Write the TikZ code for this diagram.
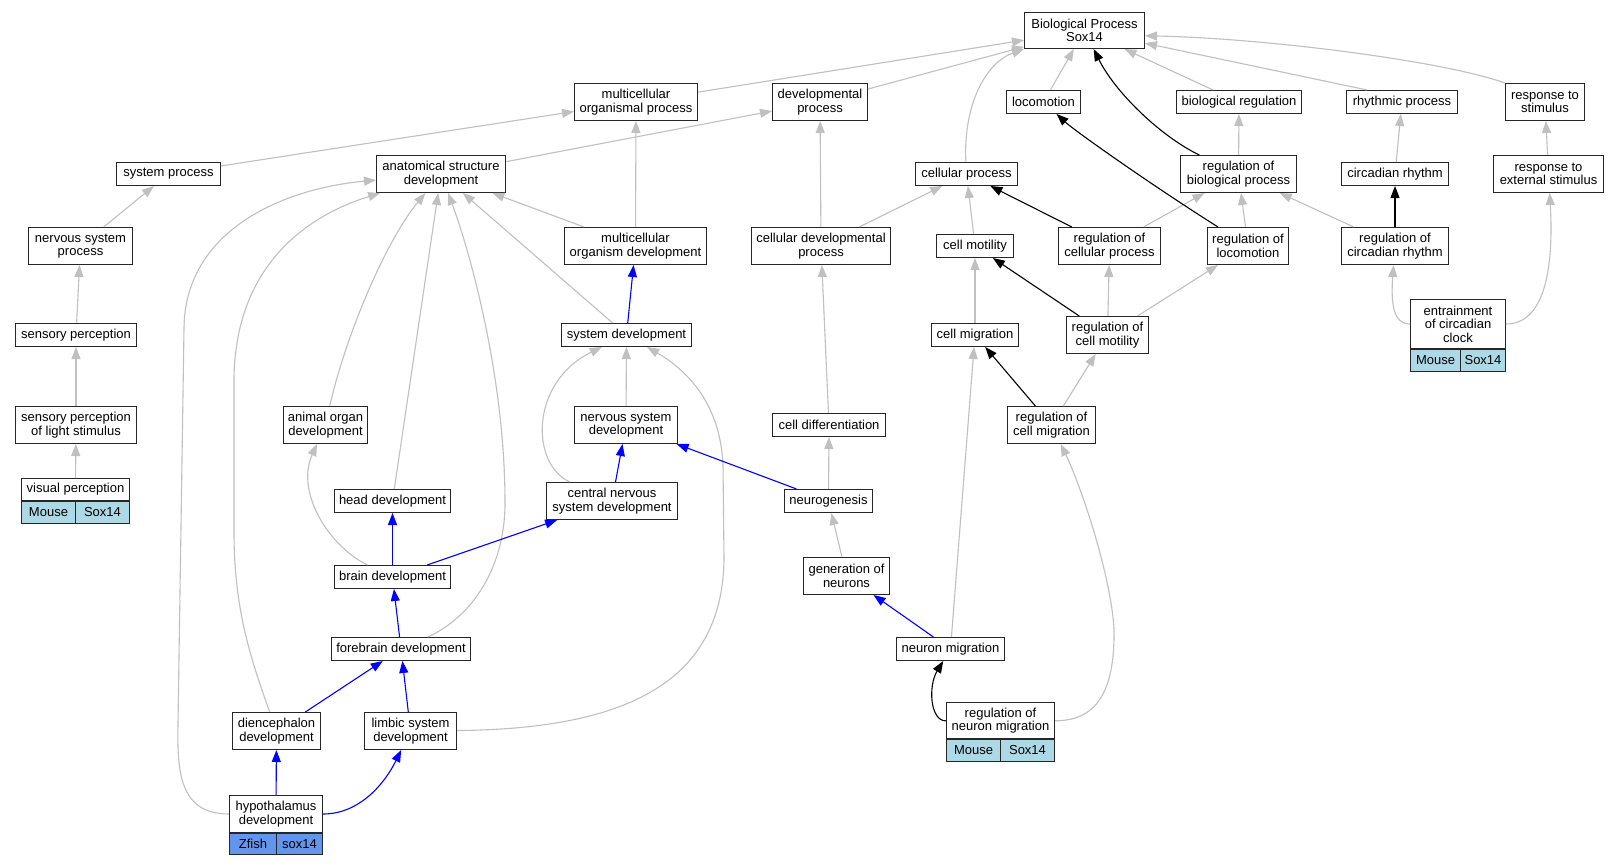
\documentclass[tikz,border=0pt]{standalone}
\usepackage{fontspec}
\setmainfont{Liberation Sans}
\usepackage{tikz}
\usetikzlibrary{arrows.meta, positioning}
\definecolor{edgegray}{RGB}{192,192,192}
\definecolor{mouseblue}{RGB}{173,216,230}
\definecolor{fishblue}{RGB}{100,149,237}
\tikzset{
	term/.style={
		rectangle,
		minimum height=23,
		inner sep=0pt,
		align=center,
		draw=black!85,
		line width=1pt,
		fill=white,
		font=\fontsize{13}{13.6}\selectfont
	},
	term2/.style={term, minimum height=37},
	mouse/.style={term, minimum height=22, fill=mouseblue},
	zfish/.style={term, minimum height=21, fill=fishblue},
	isa/.style={draw=edgegray, line width=1.1pt, -{Triangle[length=12pt, width=9pt]}},
	reg/.style={draw=black, line width=1.1pt, -{Triangle[length=12pt, width=9pt]}},
	part/.style={draw=blue, line width=1.1pt, -{Triangle[length=12pt, width=9pt]}}
}

\begin{document}
\begin{tikzpicture}[x=1pt, y=-1pt]
	\path [fill=white] (0,0) rectangle (1619,864);

	\node (bp) [term2, minimum width=120, minimum height=36] at (1084.5,30.5) {Biological Process\\Sox14};

	\node (mop) [term2, minimum width=123] at (636,102) {multicellular\\organismal process};
	\node (dp) [term2, minimum width=95] at (820,102) {developmental\\process};
	\node (loco) [term, minimum width=74] at (1043.5,102) {locomotion};
	\node (bioreg) [term, minimum width=125] at (1239,102) {biological regulation};
	\node (rhythm) [term, minimum width=111] at (1402,102) {rhythmic process};
	\node (resp) [term2, minimum width=79] at (1545,102) {response to\\stimulus};

	\node (sysproc) [term, minimum width=104] at (168.5,174) {system process};
	\node (asd) [term2, minimum width=129] at (441,174) {anatomical structure\\development};
	\node (cellproc) [term, minimum width=102] at (966.5,174) {cellular process};
	\node (rbp) [term2, minimum width=116] at (1238.5,174) {regulation of\\biological process};
	\node (circ) [term, minimum width=107] at (1395,174) {circadian rhythm};
	\node (resext) [term2, minimum width=110] at (1548.5,174) {response to\\external stimulus};

	\node (nsp) [term2, minimum width=104] at (80.5,246) {nervous system\\process};
	\node (mod) [term2, minimum width=142] at (635.5,246) {multicellular\\organism development};
	\node (cdp) [term2, minimum width=139] at (821,246) {cellular developmental\\process};
	\node (motil) [term, minimum width=77] at (975,246) {cell motility};
	\node (rcp) [term2, minimum width=102] at (1109.5,246) {regulation of\\cellular process};
	\node (rloco) [term2, minimum width=81] at (1248,246) {regulation of\\locomotion};
	\node (rcirc) [term2, minimum width=107] at (1395,246) {regulation of\\circadian rhythm};

	\node (sensperc) [term, minimum width=121] at (76,335) {sensory perception};
	\node (sysdev) [term, minimum width=130] at (626.5,335) {system development};
	\node (migr) [term, minimum width=87] at (975,335) {cell migration};
	\node (rmotil) [term2, minimum width=82] at (1107.5,335) {regulation of\\cell motility};
	\node (entr) [term, minimum width=95, minimum height=49] at (1458,324) {entrainment\\of circadian\\clock};
	\node (entrm) [mouse, anchor=north west, minimum width=50] at (entr.south west) {Mouse};
	\node (entrg) [mouse, anchor=north east, minimum width=45] at (entr.south east) {Sox14};

	\node (light) [term2, minimum width=121] at (76,425) {sensory perception\\of light stimulus};
	\node (organ) [term2, minimum width=84] at (325.5,425) {animal organ\\development};
	\node (nsd) [term2, minimum width=103] at (626,425) {nervous system\\development};
	\node (diff) [term, minimum width=113] at (829,425) {cell differentiation};
	\node (rmigr) [term2, minimum width=88] at (1051.5,425) {regulation of\\cell migration};

	\node (visual) [term, minimum width=108, minimum height=22] at (75.5,489.5) {visual perception};
	\node (visualm) [mouse, anchor=north west, minimum width=54] at (visual.south west) {Mouse};
	\node (visualg) [mouse, anchor=north east, minimum width=54] at (visual.south east) {Sox14};
	\node (head) [term, minimum width=116] at (392.5,501) {head development};
	\node (cns) [term2, minimum width=131] at (612,501) {central nervous\\system development};
	\node (neuro) [term, minimum width=88] at (828.5,501) {neurogenesis};

	\node (brain) [term, minimum width=116] at (392.5,577) {brain development};
	\node (gen) [term2, minimum width=86] at (846.5,576) {generation of\\neurons};

	\node (fore) [term, minimum width=139] at (401,649) {forebrain development};
	\node (nmigr) [term, minimum width=108] at (950.5,649) {neuron migration};

	\node (dien) [term2, minimum width=88] at (276.5,731) {diencephalon\\development};
	\node (limbic) [term2, minimum width=92] at (410.5,731) {limbic system\\development};
	\node (rnm) [term2, minimum width=108, minimum height=36] at (1000.5,720.5) {regulation of\\neuron migration};
	\node (rnmm) [mouse, anchor=north west, minimum width=54] at (rnm.south west) {Mouse};
	\node (rnmg) [mouse, anchor=north east, minimum width=54] at (rnm.south east) {Sox14};

	\node (hyp) [term2, minimum width=93] at (276,814) {hypothalamus\\development};
	\node (hypz) [zfish, anchor=north west, minimum width=47] at (hyp.south west) {Zfish};
	\node (hypg) [zfish, anchor=north east, minimum width=46] at (hyp.south east) {sox14};

	% is_a
	\draw [isa] (mop) -- (bp);
	\draw [isa] (dp) -- (bp);
	\draw [isa] (cellproc) .. controls (963,106) and (985,63) .. (bp.south west);
	\draw [isa] (loco) -- (bp);
	\draw [isa] (bioreg) -- (bp);
	\draw [isa] (rhythm.161) -- (bp);
	\draw [isa] (resp.north west) .. controls (1440,60) and (1260,38) .. (bp.-5);
	\draw [isa] (sysproc) -- (mop);
	\draw [isa] (asd) -- (dp);
	\draw [isa] (mod) -- (mop);
	\draw [isa] (cdp) -- (dp);
	\draw [isa] (nsp) -- (sysproc);
	\draw [isa] (sensperc) -- (nsp);
	\draw [isa] (light) -- (sensperc);
	\draw [isa] (visual) -- (light);
	\draw [isa] (hyp) .. controls (180,814) and (177,773) .. (178,724) -- (184,328) .. controls (185,232) and (280,189) .. (asd);
	\draw [isa] (dien) .. controls (250,657) and (234,608) .. (234,532) -- (234,377) .. controls (236,271) and (300,218) .. (asd);
	\draw [isa] (organ) .. controls (345,338) and (385,242) .. (asd);
	\draw [isa] (head) -- (asd);
	\draw [isa] (fore) .. controls (470,618) and (505,570) .. (505,503) .. controls (505,377) and (470,252) .. (asd);
	\draw [isa] (sysdev) -- (asd);
	\draw [isa] (mod) -- (asd);
	\draw [isa] (brain) .. controls (330,547) and (295,493) .. (organ);
	\draw [isa] (cns) .. controls (530,464) and (530,382) .. (sysdev);
	\draw [isa] (nsd) -- (sysdev);
	\draw [isa] (limbic) .. controls (620,729) and (722,686) .. (724,560) -- (723,464) .. controls (720,406) and (690,372) .. (sysdev);
	\draw [isa] (cdp) -- (cellproc);
	\draw [isa] (motil) -- (cellproc);
	\draw [isa] (diff) -- (cdp);
	\draw [isa] (neuro) -- (diff);
	\draw [isa] (gen) -- (neuro);
	\draw [isa] (nmigr) -- (migr);
	\draw [isa] (migr) -- (motil);
	\draw [isa] (rcp) -- (rbp);
	\draw [isa] (rloco) -- (rbp);
	\draw [isa] (rcirc) -- (rbp);
	\draw [isa] (rbp) -- (bioreg);
	\draw [isa] (circ) -- (rhythm);
	\draw [isa] (resext) -- (resp);
	\draw [isa] (rmotil) -- (rcp);
	\draw [isa] (rmotil) -- (rloco);
	\draw [isa] (rmigr) -- (rmotil);
	\draw [isa] (rnm) .. controls (1100,721) and (1115,686) .. (1114,628) .. controls (1110,571) and (1080,484) .. (rmigr);
	\draw [isa] (entr) .. controls (1392,324) and (1391,300) .. (rcirc);
	\draw [isa] (entr) .. controls (1550,324) and (1553,252) .. (resext);

	% regulates
	\draw [reg] (rbp) .. controls (1160,136) and (1115,92) .. (bp);
	\draw [reg] (rloco) .. controls (1150,184) and (1075,131) .. (loco);
	\draw [reg] (rcp) -- (cellproc);
	\draw [reg] (rcirc) -- (circ);
	\draw [reg] (rmotil) -- (motil);
	\draw [reg] (rmigr) -- (migr);
	\draw [reg] (rnm) .. controls (930,721) and (928,686) .. (nmigr);

	% part_of
	\draw [part] (sysdev) -- (mod);
	\draw [part] (cns) -- (nsd);
	\draw [part] (neuro) -- (nsd);
	\draw [part] (brain) -- (head);
	\draw [part] (brain) -- (cns);
	\draw [part] (fore) -- (brain);
	\draw [part] (dien) -- (fore);
	\draw [part] (limbic) -- (fore);
	\draw [part] (hyp) -- (dien);
	\draw [part] (hyp) .. controls (360,814) and (385,783) .. (limbic);
	\draw [part] (nmigr) -- (gen);
\end{tikzpicture}
\end{document}
